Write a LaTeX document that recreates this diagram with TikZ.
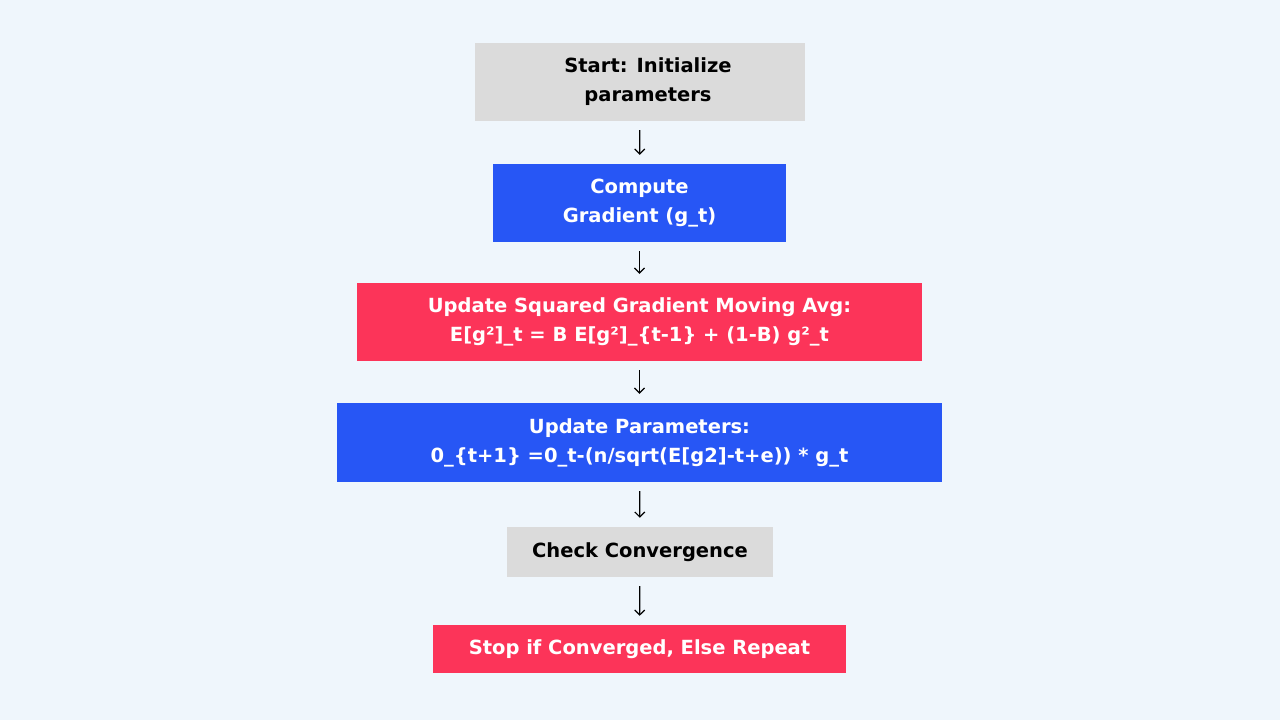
\documentclass[tikz,border=0pt]{standalone}
\usepackage{fontspec}
\setmainfont{DejaVu Sans}
\usetikzlibrary{arrows.meta}
\definecolor{bg}{HTML}{EFF6FC}
\definecolor{gr}{HTML}{DBDBDB}
\definecolor{bl}{HTML}{2756F5}
\definecolor{rd}{HTML}{FC3459}
\begin{document}
\begin{tikzpicture}[x=1pt,y=-1pt,
  box/.style={draw=none,inner sep=0pt,align=center,font=\fontsize{19.5}{29}\selectfont\bfseries},
  arr/.style={-{Straight Barb[length=5pt,width=10pt]},line width=1.2pt,shorten <=9pt,shorten >=9pt}]
\fill[bg] (0,0) rectangle (1280,720);
\useasboundingbox (0,0) rectangle (1280,720);
\node[box,fill=gr,text=black,minimum width=330,minimum height=78] (a) at (640,82) {\hspace*{16pt}Start: Initialize\\\hspace*{16pt}parameters};
\node[box,fill=bl,text=white,minimum width=293,minimum height=78] (b) at (639.5,203) {Compute\\Gradient (g\_t)};
\node[box,fill=rd,text=white,minimum width=565,minimum height=78] (c) at (639.5,322) {Update Squared Gradient Moving Avg:\\E[g²]\_t = B E[g²]\_\{t-1\} + (1-B) g²\_t};
\node[box,fill=bl,text=white,minimum width=605,minimum height=79] (d) at (639.5,442.5) {Update Parameters:\\0\_\{t+1\} =0\_t-(n/sqrt(E[g2]-t+e)) * g\_t};
\node[box,fill=gr,text=black,minimum width=266,minimum height=50] (e) at (640,552) {Check Convergence};
\node[box,fill=rd,text=white,minimum width=413,minimum height=48] (f) at (639.5,649) {Stop if Converged, Else Repeat};
\draw[arr] (a) -- (b);
\draw[arr] (b) -- (c);
\draw[arr] (c) -- (d);
\draw[arr] (d) -- (e);
\draw[arr] (e) -- (f);
\end{tikzpicture}
\end{document}
